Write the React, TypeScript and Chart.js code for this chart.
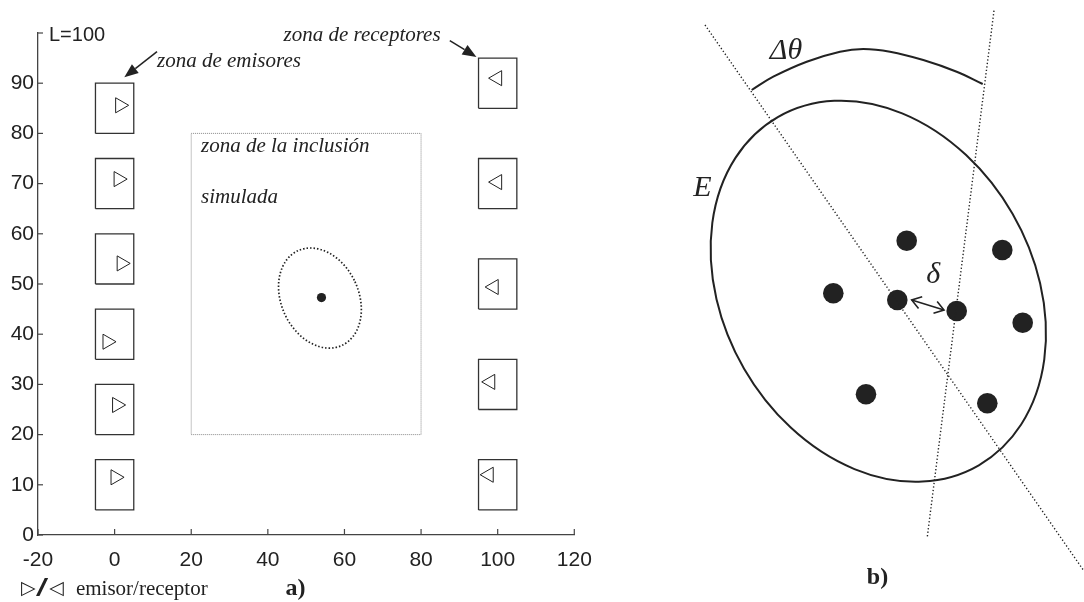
import React, { useEffect, useRef } from 'react';
import { Chart, registerables } from 'chart.js';

Chart.register(...registerables);

// ---------- Panel a) data ----------
const xTickValues = [-20, 0, 20, 40, 60, 80, 100, 120];
const yTopLabel = 'L=100';
const emitterBoxX = [-5, 5];
const emitterBoxY = [[80, 90], [65, 75], [50, 60], [35, 45], [20, 30], [5, 15]];
const receiverBoxX = [95, 105];
const receiverBoxY = [[85, 95], [65, 75], [45, 55], [25, 35], [5, 15]];
const emitterX = [1.4, 1.0, 1.8, -1.9, 0.6, 0.2];
const emitterY = [85.6, 70.9, 54.1, 38.5, 25.9, 11.5];
const receiverX = [99.9, 99.9, 99.0, 98.1, 97.7];
const receiverY = [91.0, 70.3, 49.4, 30.5, 12.0];
const inclusionX = [20, 80];
const inclusionY = [20, 80];
const inclusionPoint = [54.0, 47.3];
const inclusionEllipseCenter = [53.6, 47.2];
const inclusionEllipseRadii = [7.7, 10.4];
const inclusionEllipseTilt = 25;
const aLabels = ['zona de emisores', 'zona de receptores', 'zona de la inclusión', 'simulada'];
const aLabelX = [11.07, 44.1, 22.56, 22.56];
const aLabelY = [94.4, 99.6, 77.35, 67.2];
const aArrowFromX = [11.07, 87.5];
const aArrowFromY = [96.3, 98.5];
const aArrowToX = [2.53, 94.46];
const aArrowToY = [91.2, 95.2];
const legendText = 'emisor/receptor';
const panelALetter = 'a)';

// ---------- Panel b) data ----------
const bDotX = [24.67, 34.23, 17.33, 23.73, 29.67, 36.27, 20.6, 32.73];
const bDotY = [36.13, 35.2, 30.87, 30.2, 29.1, 27.93, 20.77, 19.87];
const bLine1X = [4.5, 42.33];
const bLine1Y = [57.7, 3.2];
const bLine2X = [33.4, 26.73];
const bLine2Y = [59.13, 6.53];
const bArcX = [9.17, 11.33, 14.67, 18, 20.33, 23, 26.33, 29.67, 32.27];
const bArcY = [51.2, 52.53, 54.03, 55.03, 55.3, 55.03, 54.2, 53.03, 51.8];
const bEllipseCenter = [21.83, 31.08];
const bEllipseRadii = [20.1, 15.5];
const bEllipseTilt = -60;
const bLabels = ['Δθ', 'E', 'δ'];
const bLabelX = [12.6, 4.25, 27.33];
const bLabelY = [55.1, 41.4, 32.65];
const bDeltaArrowX = [25.17, 28.4];
const bDeltaArrowY = [30.2, 29.2];
const panelBLetter = 'b)';
const panelBLetterPos = [21.75, 2.4];

const INK = '#222';
const AXIS = '#444';
const SANS = '"Liberation Sans", Arial, sans-serif';
const SERIF = '"Liberation Serif", "Times New Roman", serif';

const rectPoints = (xr: number[], yr: number[]) => [
  { x: xr[0], y: yr[0] },
  { x: xr[1], y: yr[0] },
  { x: xr[1], y: yr[1] },
  { x: xr[0], y: yr[1] },
  { x: xr[0], y: yr[0] },
];

const lineDs = (data: any[], extra: any = {}) => ({
  data,
  showLine: true,
  pointRadius: 0,
  borderColor: '#333',
  borderWidth: 1.3,
  fill: false,
  tension: 0,
  ...extra,
});

const filledArrow = (ctx: CanvasRenderingContext2D, x0: number, y0: number, x1: number, y1: number, len: number, half: number) => {
  const ang = Math.atan2(y1 - y0, x1 - x0);
  const bx = x1 - len * Math.cos(ang);
  const by = y1 - len * Math.sin(ang);
  ctx.beginPath();
  ctx.moveTo(x0, y0);
  ctx.lineTo(bx, by);
  ctx.stroke();
  ctx.beginPath();
  ctx.moveTo(x1, y1);
  ctx.lineTo(bx + half * Math.sin(ang), by - half * Math.cos(ang));
  ctx.lineTo(bx - half * Math.sin(ang), by + half * Math.cos(ang));
  ctx.closePath();
  ctx.fill();
};

const openHead = (ctx: CanvasRenderingContext2D, tx: number, ty: number, ang: number, len: number, spread: number) => {
  ctx.beginPath();
  ctx.moveTo(tx - len * Math.cos(ang - spread), ty - len * Math.sin(ang - spread));
  ctx.lineTo(tx, ty);
  ctx.lineTo(tx - len * Math.cos(ang + spread), ty - len * Math.sin(ang + spread));
  ctx.stroke();
};

const panelAPlugin = {
  id: 'panelA',
  afterDatasetsDraw(chart: any) {
    const ctx: CanvasRenderingContext2D = chart.ctx;
    const xs = chart.scales.x;
    const ys = chart.scales.y;
    const X = (v: number) => xs.getPixelForValue(v);
    const Y = (v: number) => ys.getPixelForValue(v);
    const pxY = Math.abs(Y(0) - Y(1));
    ctx.save();
    // inward ticks (MATLAB style)
    ctx.strokeStyle = AXIS;
    ctx.lineWidth = 1.2;
    xs.ticks.forEach((t: any) => {
      ctx.beginPath();
      ctx.moveTo(X(t.value), Y(0));
      ctx.lineTo(X(t.value), Y(0) - 6);
      ctx.stroke();
    });
    ys.ticks.forEach((t: any) => {
      ctx.beginPath();
      ctx.moveTo(X(-20), Y(t.value));
      ctx.lineTo(X(-20) + 5, Y(t.value));
      ctx.stroke();
    });

    // dotted inclusion ellipse
    ctx.strokeStyle = INK;
    ctx.lineWidth = 1.7;
    ctx.setLineDash([1.5, 2.0]);
    ctx.beginPath();
    ctx.ellipse(
      X(inclusionEllipseCenter[0]),
      Y(inclusionEllipseCenter[1]),
      inclusionEllipseRadii[0] * pxY,
      inclusionEllipseRadii[1] * pxY,
      (-inclusionEllipseTilt * Math.PI) / 180,
      0,
      Math.PI * 2
    );
    ctx.stroke();
    ctx.setLineDash([]);

    // labels
    ctx.fillStyle = INK;
    ctx.textBaseline = 'middle';
    ctx.textAlign = 'left';
    ctx.font = `20px ${SANS}`;
    ctx.fillText(yTopLabel, X(-20) + 11, Y(100) + 2);
    ctx.font = `italic 21px ${SERIF}`;
    aLabels.forEach((s, i) => ctx.fillText(s, X(aLabelX[i]), Y(aLabelY[i])));

    // arrows
    ctx.strokeStyle = INK;
    ctx.lineWidth = 1.5;
    aArrowFromX.forEach((_, i) => {
      filledArrow(ctx, X(aArrowFromX[i]), Y(aArrowFromY[i]), X(aArrowToX[i]), Y(aArrowToY[i]), 14, 5.5);
    });

    // legend row below axis
    const rowY = Y(0) + 54;
    const lx = X(-24.2);
    ctx.font = `19px "DejaVu Sans", sans-serif`;
    ctx.fillText('▷', lx - 1, rowY);
    ctx.fillText('◁', lx + 27, rowY);
    ctx.save();
    ctx.translate(lx + 14, rowY + 1);
    ctx.scale(1.9, 1);
    ctx.font = `23px ${SANS}`;
    ctx.fillText('/', 0, 0);
    ctx.restore();
    ctx.font = `21px ${SERIF}`;
    ctx.fillText(legendText, lx + 54, rowY);
    ctx.font = `bold 24px ${SERIF}`;
    ctx.textAlign = 'center';
    ctx.fillText(panelALetter, X(47.2), rowY);
    ctx.restore();
  },
};

const panelBPlugin = {
  id: 'panelB',
  afterDatasetsDraw(chart: any) {
    const ctx: CanvasRenderingContext2D = chart.ctx;
    const xs = chart.scales.x;
    const ys = chart.scales.y;
    const X = (v: number) => xs.getPixelForValue(v);
    const Y = (v: number) => ys.getPixelForValue(v);
    const px = Math.abs(X(1) - X(0));
    ctx.save();
    ctx.strokeStyle = INK;
    ctx.lineWidth = 2;
    ctx.beginPath();
    ctx.ellipse(
      X(bEllipseCenter[0]),
      Y(bEllipseCenter[1]),
      bEllipseRadii[0] * px,
      bEllipseRadii[1] * px,
      (-bEllipseTilt * Math.PI) / 180,
      0,
      Math.PI * 2
    );
    ctx.stroke();

    // delta double arrow
    const x0 = X(bDeltaArrowX[0]);
    const y0 = Y(bDeltaArrowY[0]);
    const x1 = X(bDeltaArrowX[1]);
    const y1 = Y(bDeltaArrowY[1]);
    ctx.lineWidth = 1.6;
    ctx.beginPath();
    ctx.moveTo(x0, y0);
    ctx.lineTo(x1, y1);
    ctx.stroke();
    const ang = Math.atan2(y1 - y0, x1 - x0);
    openHead(ctx, x1, y1, ang, 11, 0.6);
    openHead(ctx, x0, y0, ang + Math.PI, 11, 0.6);

    // labels
    ctx.fillStyle = INK;
    ctx.textBaseline = 'middle';
    ctx.textAlign = 'center';
    ctx.font = `italic 30px ${SERIF}`;
    bLabels.forEach((s, i) => ctx.fillText(s, X(bLabelX[i]), Y(bLabelY[i])));
    ctx.font = `bold 24px ${SERIF}`;
    ctx.fillText(panelBLetter, X(panelBLetterPos[0]), Y(panelBLetterPos[1]));
    ctx.restore();
  },
};

const configA = (): any => ({
  type: 'scatter',
  data: {
    datasets: [
      ...emitterBoxY.map((yr) => lineDs(rectPoints(emitterBoxX, yr))),
      ...receiverBoxY.map((yr) => lineDs(rectPoints(receiverBoxX, yr))),
      lineDs(rectPoints(inclusionX, inclusionY), { borderColor: '#8a8a8a', borderWidth: 1, borderDash: [1, 1] }),
      {
        data: emitterX.map((x, i) => ({ x, y: emitterY[i] })),
        pointStyle: 'triangle',
        rotation: 90,
        pointRadius: 8.7,
        borderColor: INK,
        borderWidth: 1,
        backgroundColor: 'rgba(0,0,0,0)',
      },
      {
        data: receiverX.map((x, i) => ({ x, y: receiverY[i] })),
        pointStyle: 'triangle',
        rotation: -90,
        pointRadius: 8.7,
        borderColor: INK,
        borderWidth: 1,
        backgroundColor: 'rgba(0,0,0,0)',
      },
      {
        data: [{ x: inclusionPoint[0], y: inclusionPoint[1] }],
        pointRadius: 4.6,
        borderWidth: 0,
        backgroundColor: INK,
      },
    ],
  },
  options: {
    responsive: false,
    animation: false,
    events: [],
    layout: { autoPadding: false, padding: { top: 33, right: 85.7, left: 0, bottom: 0 } },
    plugins: { legend: { display: false }, tooltip: { enabled: false } },
    scales: {
      x: {
        type: 'linear',
        min: -20,
        max: 120,
        afterBuildTicks: (s: any) => {
          s.ticks = xTickValues.map((v) => ({ value: v }));
        },
        afterFit: (s: any) => {
          s.height = 67;
        },
        ticks: { font: { family: SANS, size: 21 }, color: INK, padding: 13, maxRotation: 0, autoSkip: false },
        grid: { display: true, drawOnChartArea: false, drawTicks: false, color: AXIS },
        border: { display: true, color: AXIS, width: 1.3 },
      },
      y: {
        type: 'linear',
        min: 0,
        max: 100,
        ticks: {
          stepSize: 10,
          font: { family: SANS, size: 21 },
          color: INK,
          padding: 4,
          callback: (v: number) => (v === 100 ? '' : String(v)),
        },
        afterFit: (s: any) => {
          s.width = 38;
        },
        grid: { display: true, drawOnChartArea: false, drawTicks: false, color: AXIS },
        border: { display: true, color: AXIS, width: 1.3 },
      },
    },
  },
  plugins: [panelAPlugin],
});

const configB = (): any => ({
  type: 'scatter',
  data: {
    datasets: [
      lineDs(bLine1X.map((x, i) => ({ x, y: bLine1Y[i] })), { borderColor: INK, borderWidth: 1.4, borderDash: [1.3, 2.2] }),
      lineDs(bLine2X.map((x, i) => ({ x, y: bLine2Y[i] })), { borderColor: INK, borderWidth: 1.4, borderDash: [1.3, 2.2] }),
      lineDs(bArcX.map((x, i) => ({ x, y: bArcY[i] })), { borderColor: INK, borderWidth: 2, tension: 0.4 }),
      {
        data: bDotX.map((x, i) => ({ x, y: bDotY[i] })),
        pointRadius: 10.3,
        borderWidth: 0,
        backgroundColor: INK,
      },
    ],
  },
  options: {
    responsive: false,
    animation: false,
    events: [],
    layout: { autoPadding: false, padding: 0 },
    plugins: { legend: { display: false }, tooltip: { enabled: false } },
    scales: {
      x: { type: 'linear', min: 0, max: 42.4, display: false },
      y: { type: 'linear', min: 0, max: 60.2, display: false },
    },
  },
  plugins: [panelBPlugin],
});

export default function App() {
  const refA = useRef<HTMLCanvasElement>(null);
  const refB = useRef<HTMLCanvasElement>(null);
  useEffect(() => {
    const a = new Chart(refA.current as HTMLCanvasElement, configA());
    const b = new Chart(refB.current as HTMLCanvasElement, configB());
    return () => {
      a.destroy();
      b.destroy();
    };
  }, []);
  return (
    <div style={{ position: 'absolute', left: 0, top: 0, width: 1084, height: 602, background: '#fff', overflow: 'hidden' }}>
      <canvas ref={refA} width={660} height={602} style={{ position: 'absolute', left: 0, top: 0, width: 660, height: 602 }} />
      <canvas ref={refB} width={424} height={602} style={{ position: 'absolute', left: 660, top: 0, width: 424, height: 602 }} />
    </div>
  );
}
